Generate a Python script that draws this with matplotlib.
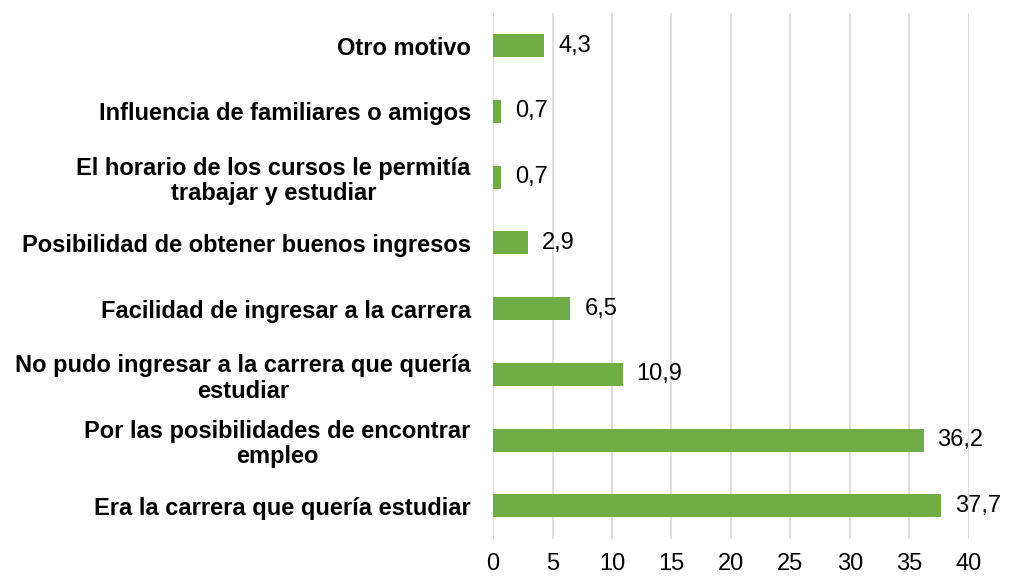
import matplotlib.pyplot as plt
import numpy as np

plt.rcParams['font.family'] = ['Liberation Sans', 'DejaVu Sans']

categories = [
    "Era la carrera que quería estudiar",
    "Por las posibilidades de encontrar\nempleo",
    "No pudo ingresar a la carrera que quería\nestudiar",
    "Facilidad de ingresar a la carrera",
    "Posibilidad de obtener buenos ingresos",
    "El horario de los cursos le permitía\ntrabajar y estudiar",
    "Influencia de familiares o amigos",
    "Otro motivo",
]
values = [37.7, 36.2, 10.9, 6.5, 2.9, 0.7, 0.7, 4.3]
xticks = [0, 5, 10, 15, 20, 25, 30, 35, 40]

fig = plt.figure(figsize=(10.23, 5.78), dpi=100)
ax = fig.add_axes([0.482, 0.068, 0.465, 0.91])

y = np.arange(len(categories))
ax.barh(y, values, height=0.35, color='#70AD47', zorder=3)

for yi, v in zip(y, values):
    ax.annotate(f"{v:.1f}".replace('.', ','), (v, yi), xytext=(10, 0),
                textcoords='offset points', va='center', ha='left',
                fontsize=17, color='black')

ax.set_ylim(-0.5, len(categories) - 0.5)
ax.set_xlim(0, 40)
ax.set_xticks(xticks)
ax.set_xticklabels([str(t) for t in xticks], fontsize=17)
ax.set_yticks(y)
ax.set_yticklabels(categories, fontsize=17, fontweight='bold',
                   multialignment='center', linespacing=1.15)
ax.tick_params(axis='both', length=0)
ax.tick_params(axis='y', pad=16)
ax.tick_params(axis='x', pad=10)
ax.grid(axis='x', color='#D9D9D9', linewidth=1.2, zorder=0)
for s in ax.spines.values():
    s.set_visible(False)

fig.savefig('out.png', dpi=100)
